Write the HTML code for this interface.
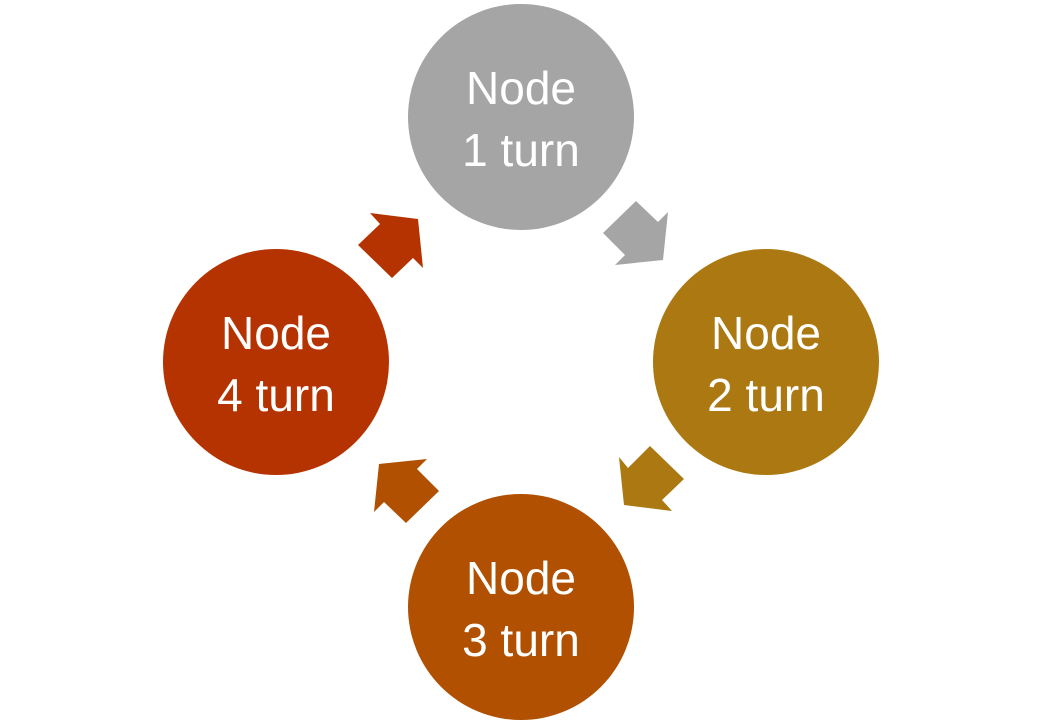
<!DOCTYPE html>
<html><head><style>
html,body{margin:0;padding:0;background:#fff;}
svg{display:block;}
text{font-family:"Liberation Sans",sans-serif;font-size:46px;fill:#fff;text-anchor:middle;}
</style></head><body>
<svg width="1040" height="726" viewBox="0 0 1040 726">
<circle cx="521" cy="117" r="113" fill="#a5a5a5"/>
<circle cx="766" cy="362" r="113" fill="#ab7811"/>
<circle cx="521" cy="607" r="113" fill="#b05000"/>
<circle cx="276" cy="362" r="113" fill="#b53300"/>
<polygon fill="#a5a5a5" points="636,201 658,222 668,212 663,260 615,265 625,255 603,233"/>
<polygon fill="#ab7811" points="624,505 672,511 662,500 684,479 650,446 628,468 619,457"/>
<polygon fill="#b05000" points="406,523 384,502 374,512 379,464 427,459 417,469 439,491"/>
<polygon fill="#b53300" points="418,219 370,213 380,224 358,245 392,278 413,258 423,268"/>
<text x="521" y="104">Node</text><text x="521" y="166">1 turn</text>
<text x="766" y="349">Node</text><text x="766" y="411">2 turn</text>
<text x="521" y="594">Node</text><text x="521" y="656">3 turn</text>
<text x="276" y="349">Node</text><text x="276" y="411">4 turn</text>
</svg>
</body></html>
